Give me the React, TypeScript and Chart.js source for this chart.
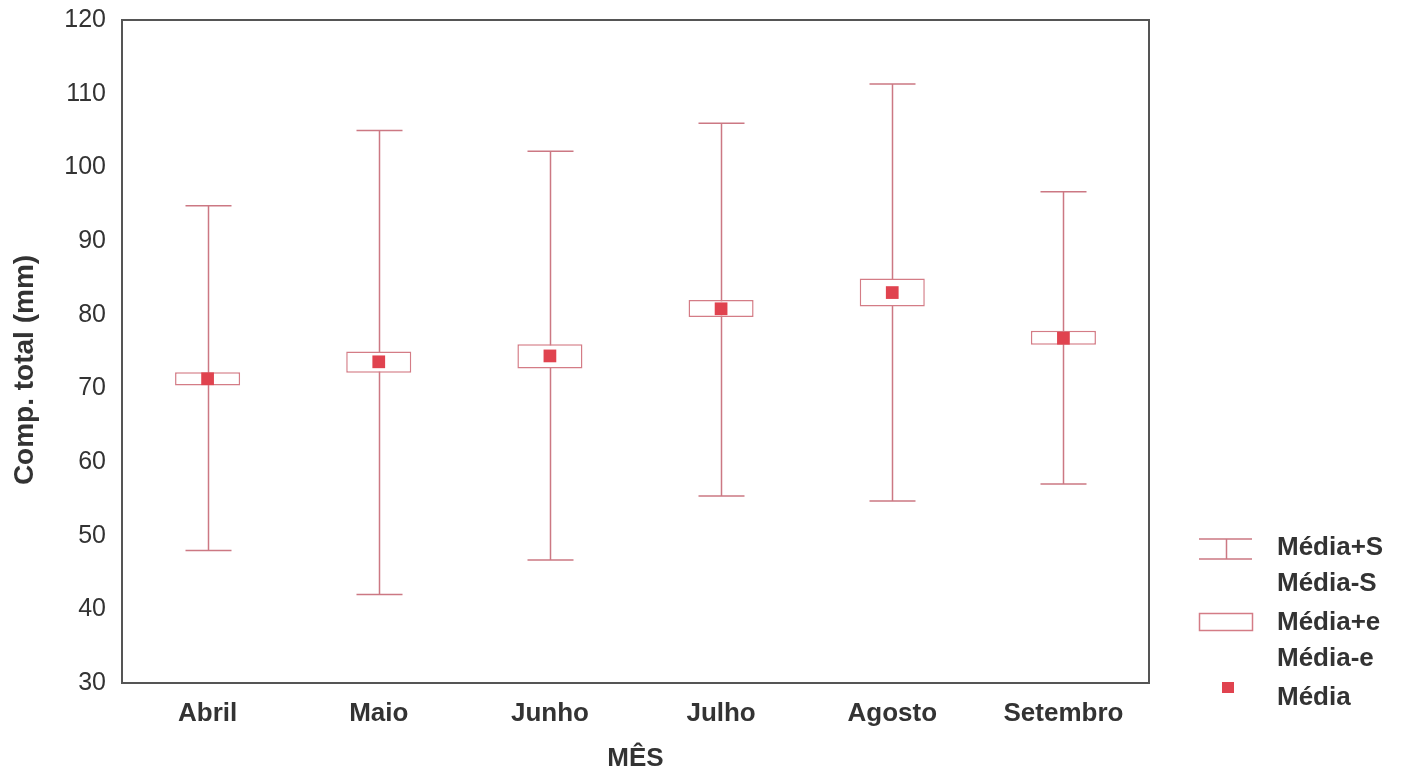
import React, { useEffect, useRef } from "react";
import { Chart, registerables } from "chart.js";

Chart.register(...registerables);

const months = ["Abril", "Maio", "Junho", "Julho", "Agosto", "Setembro"];
const means = [71.3, 73.6, 74.4, 80.8, 83.0, 76.8];
const seHigh = [72.2, 75.0, 76.0, 82.0, 84.9, 77.8];
const seLow = [70.4, 72.1, 72.7, 79.7, 81.1, 75.9];
const sdHigh = [94.8, 105.0, 102.2, 106.0, 111.3, 96.7];
const sdLow = [48.0, 42.0, 46.7, 55.4, 54.7, 57.0];
const yTicks = [30, 40, 50, 60, 70, 80, 90, 100, 110, 120];
const legendLabels = [["Média+S", "Média-S"], ["Média+e", "Média-e"], ["Média"]];
const yTitle = "Comp. total (mm)";

const WHISKER = "#cc7883";
const BOX = "#d47c86";
const MEAN = "#e0434f";
const TEXT = "#333333";
const FONT = "'Liberation Sans', Arial, sans-serif";

const whiskerPlugin = {
  id: "whiskers",
  beforeDatasetsDraw(chart: any) {
    const ctx = chart.ctx;
    const x = chart.scales.x;
    const y = chart.scales.y;
    ctx.save();
    ctx.strokeStyle = WHISKER;
    ctx.lineWidth = 1.5;
    for (let i = 0; i < months.length; i++) {
      const cx = Math.round(x.getPixelForValue(i)) + 0.5;
      const yh = y.getPixelForValue(sdHigh[i]);
      const yl = y.getPixelForValue(sdLow[i]);
      ctx.beginPath();
      ctx.moveTo(cx, yh);
      ctx.lineTo(cx, yl);
      ctx.moveTo(cx - 23, yh);
      ctx.lineTo(cx + 23, yh);
      ctx.moveTo(cx - 23, yl);
      ctx.lineTo(cx + 23, yl);
      ctx.stroke();
    }
    ctx.restore();
  },
  afterDraw(chart: any) {
    const ctx = chart.ctx;
    const a = chart.chartArea;
    ctx.save();
    ctx.strokeStyle = "#555555";
    ctx.lineWidth = 2;
    ctx.strokeRect(a.left, a.top, a.right - a.left, a.bottom - a.top);

    // y axis title
    ctx.save();
    ctx.translate(25, 370);
    ctx.rotate(-Math.PI / 2);
    ctx.font = `bold 28px ${FONT}`;
    ctx.fillStyle = TEXT;
    ctx.textAlign = "center";
    ctx.textBaseline = "middle";
    ctx.fillText(yTitle, 0, 0);
    ctx.restore();

    // legend
    ctx.font = `bold 26px ${FONT}`;
    ctx.fillStyle = TEXT;
    ctx.textBaseline = "middle";
    ctx.textAlign = "left";
    const tx = 1277;
    ctx.fillText(legendLabels[0][0], tx, 548);
    ctx.fillText(legendLabels[0][1], tx, 584);
    ctx.fillText(legendLabels[1][0], tx, 623);
    ctx.fillText(legendLabels[1][1], tx, 659);
    ctx.fillText(legendLabels[2][0], tx, 698);

    ctx.strokeStyle = WHISKER;
    ctx.lineWidth = 1.5;
    ctx.beginPath();
    ctx.moveTo(1199, 539);
    ctx.lineTo(1252, 539);
    ctx.moveTo(1199, 559);
    ctx.lineTo(1252, 559);
    ctx.moveTo(1226.5, 539);
    ctx.lineTo(1226.5, 559);
    ctx.stroke();

    ctx.strokeStyle = BOX;
    ctx.strokeRect(1199.5, 613.5, 53, 17);

    ctx.fillStyle = MEAN;
    ctx.fillRect(1222, 682, 12, 11);
    ctx.restore();
  },
};

export default function App() {
  const ref = useRef<HTMLCanvasElement | null>(null);
  useEffect(() => {
    if (!ref.current) return;
    const chart = new Chart(ref.current, {
      type: "bar",
      data: {
        labels: months,
        datasets: [
          {
            type: "bar",
            label: "Média±e",
            data: months.map((_, i) => [seLow[i], seHigh[i]]) as any,
            backgroundColor: "#ffffff",
            borderColor: BOX,
            borderWidth: 1.5,
            borderSkipped: false,
            barPercentage: 0.38,
            categoryPercentage: 1,
            order: 2,
          },
          {
            type: "line",
            label: "Média",
            data: means,
            showLine: false,
            pointStyle: "rect",
            pointRadius: 9,
            pointBackgroundColor: MEAN,
            pointBorderColor: MEAN,
            pointBorderWidth: 0,
            order: 1,
          } as any,
        ],
      },
      options: {
        animation: false,
        responsive: false,
        events: [],
        layout: { padding: { left: 0, right: 256, top: 20, bottom: 0 } },
        plugins: { legend: { display: false }, tooltip: { enabled: false } },
        scales: {
          x: {
            type: "category",
            offset: true,
            grid: { display: false, drawTicks: false },
            border: { display: false },
            ticks: {
              color: TEXT,
              padding: 15,
              maxRotation: 0,
              font: { family: FONT, size: 26, weight: "bold" },
            },
            title: {
              display: true,
              text: "MÊS",
              color: TEXT,
              font: { family: FONT, size: 26, weight: "bold" },
              padding: { top: 0, bottom: 1 },
            },
            afterFit(scale: any) {
              scale.height = 92;
              scale.paddingLeft = 0;
              scale.paddingRight = 0;
            },
          },
          y: {
            min: 30,
            max: 120,
            afterBuildTicks(scale: any) {
              scale.ticks = yTicks.map((v) => ({ value: v }));
            },
            grid: { display: false, drawTicks: false },
            border: { display: false },
            ticks: {
              color: TEXT,
              padding: 16,
              font: { family: FONT, size: 25 },
            },
            afterFit(scale: any) {
              scale.width = 122;
              scale.paddingTop = 0;
              scale.paddingBottom = 0;
            },
          },
        },
      },
      plugins: [whiskerPlugin],
    });
    return () => chart.destroy();
  }, []);
  return (
    <div style={{ position: "absolute", left: 0, top: 0, width: 1405, height: 775, background: "#ffffff" }}>
      <canvas ref={ref} width={1405} height={775} />
    </div>
  );
}
